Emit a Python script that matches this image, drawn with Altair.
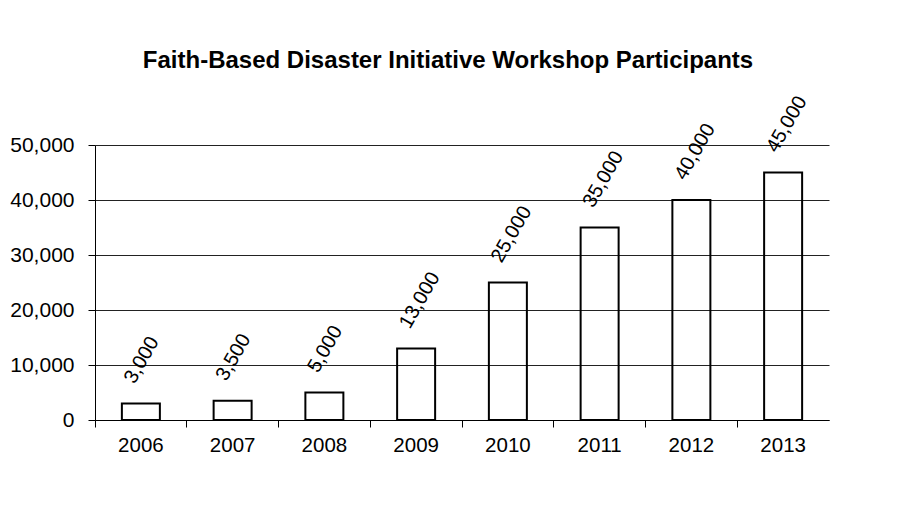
import altair as alt
import pandas as pd

years = ["2006", "2007", "2008", "2009", "2010", "2011", "2012", "2013"]
participants = [3000, 3500, 5000, 13000, 25000, 35000, 40000, 45000]
y_ticks = [0, 10000, 20000, 30000, 40000, 50000]
title_text = "Faith-Based Disaster Initiative Workshop Participants"

df = pd.DataFrame({"year": years, "participants": participants})

FONT = "Liberation Sans"

x = alt.X(
    "year:N",
    sort=years,
    title=None,
    scale=alt.Scale(paddingInner=0, paddingOuter=0),
    axis=alt.Axis(
        labelAngle=0, bandPosition=0, tickSize=7, labelPadding=8,
        labelFontSize=20.5, labelFont=FONT, domainColor="black",
        tickColor="black", labelColor="black", grid=False,
    ),
)
y = alt.Y(
    "participants:Q",
    title=None,
    scale=alt.Scale(domain=[0, 50000], nice=False),
    axis=alt.Axis(
        values=y_ticks, format=",.0f", tickSize=7, labelPadding=14,
        labelFontSize=21, labelFont=FONT, gridColor="#222222",
        gridOpacity=1, domainColor="black", tickColor="black",
        labelColor="black",
    ),
)

bars = alt.Chart(df).mark_bar(
    size=38, fill="white", fillOpacity=0, stroke="black", strokeWidth=2
).encode(x=x, y=y)

labels = alt.Chart(df).mark_text(
    angle=300, align="left", baseline="alphabetic", dx=13, dy=-15,
    fontSize=20, font=FONT, color="black",
).encode(x=x, y=y, text=alt.Text("participants:Q", format=",.0f"))

chart = (
    alt.layer(bars, labels)
    .properties(
        width=734,
        height=275,
        title=alt.TitleParams(
            title_text, font=FONT, fontSize=24, fontWeight="bold",
            color="black", anchor="middle", frame="group", offset=20, dx=-14,
        ),
        autosize=alt.AutoSizeParams(type="none"),
        padding={"left": 87, "top": 137, "right": 60, "bottom": 70},
    )
    .configure_view(strokeOpacity=0)
)

chart.save("out.html", embed_options={"renderer": "svg", "actions": False})
